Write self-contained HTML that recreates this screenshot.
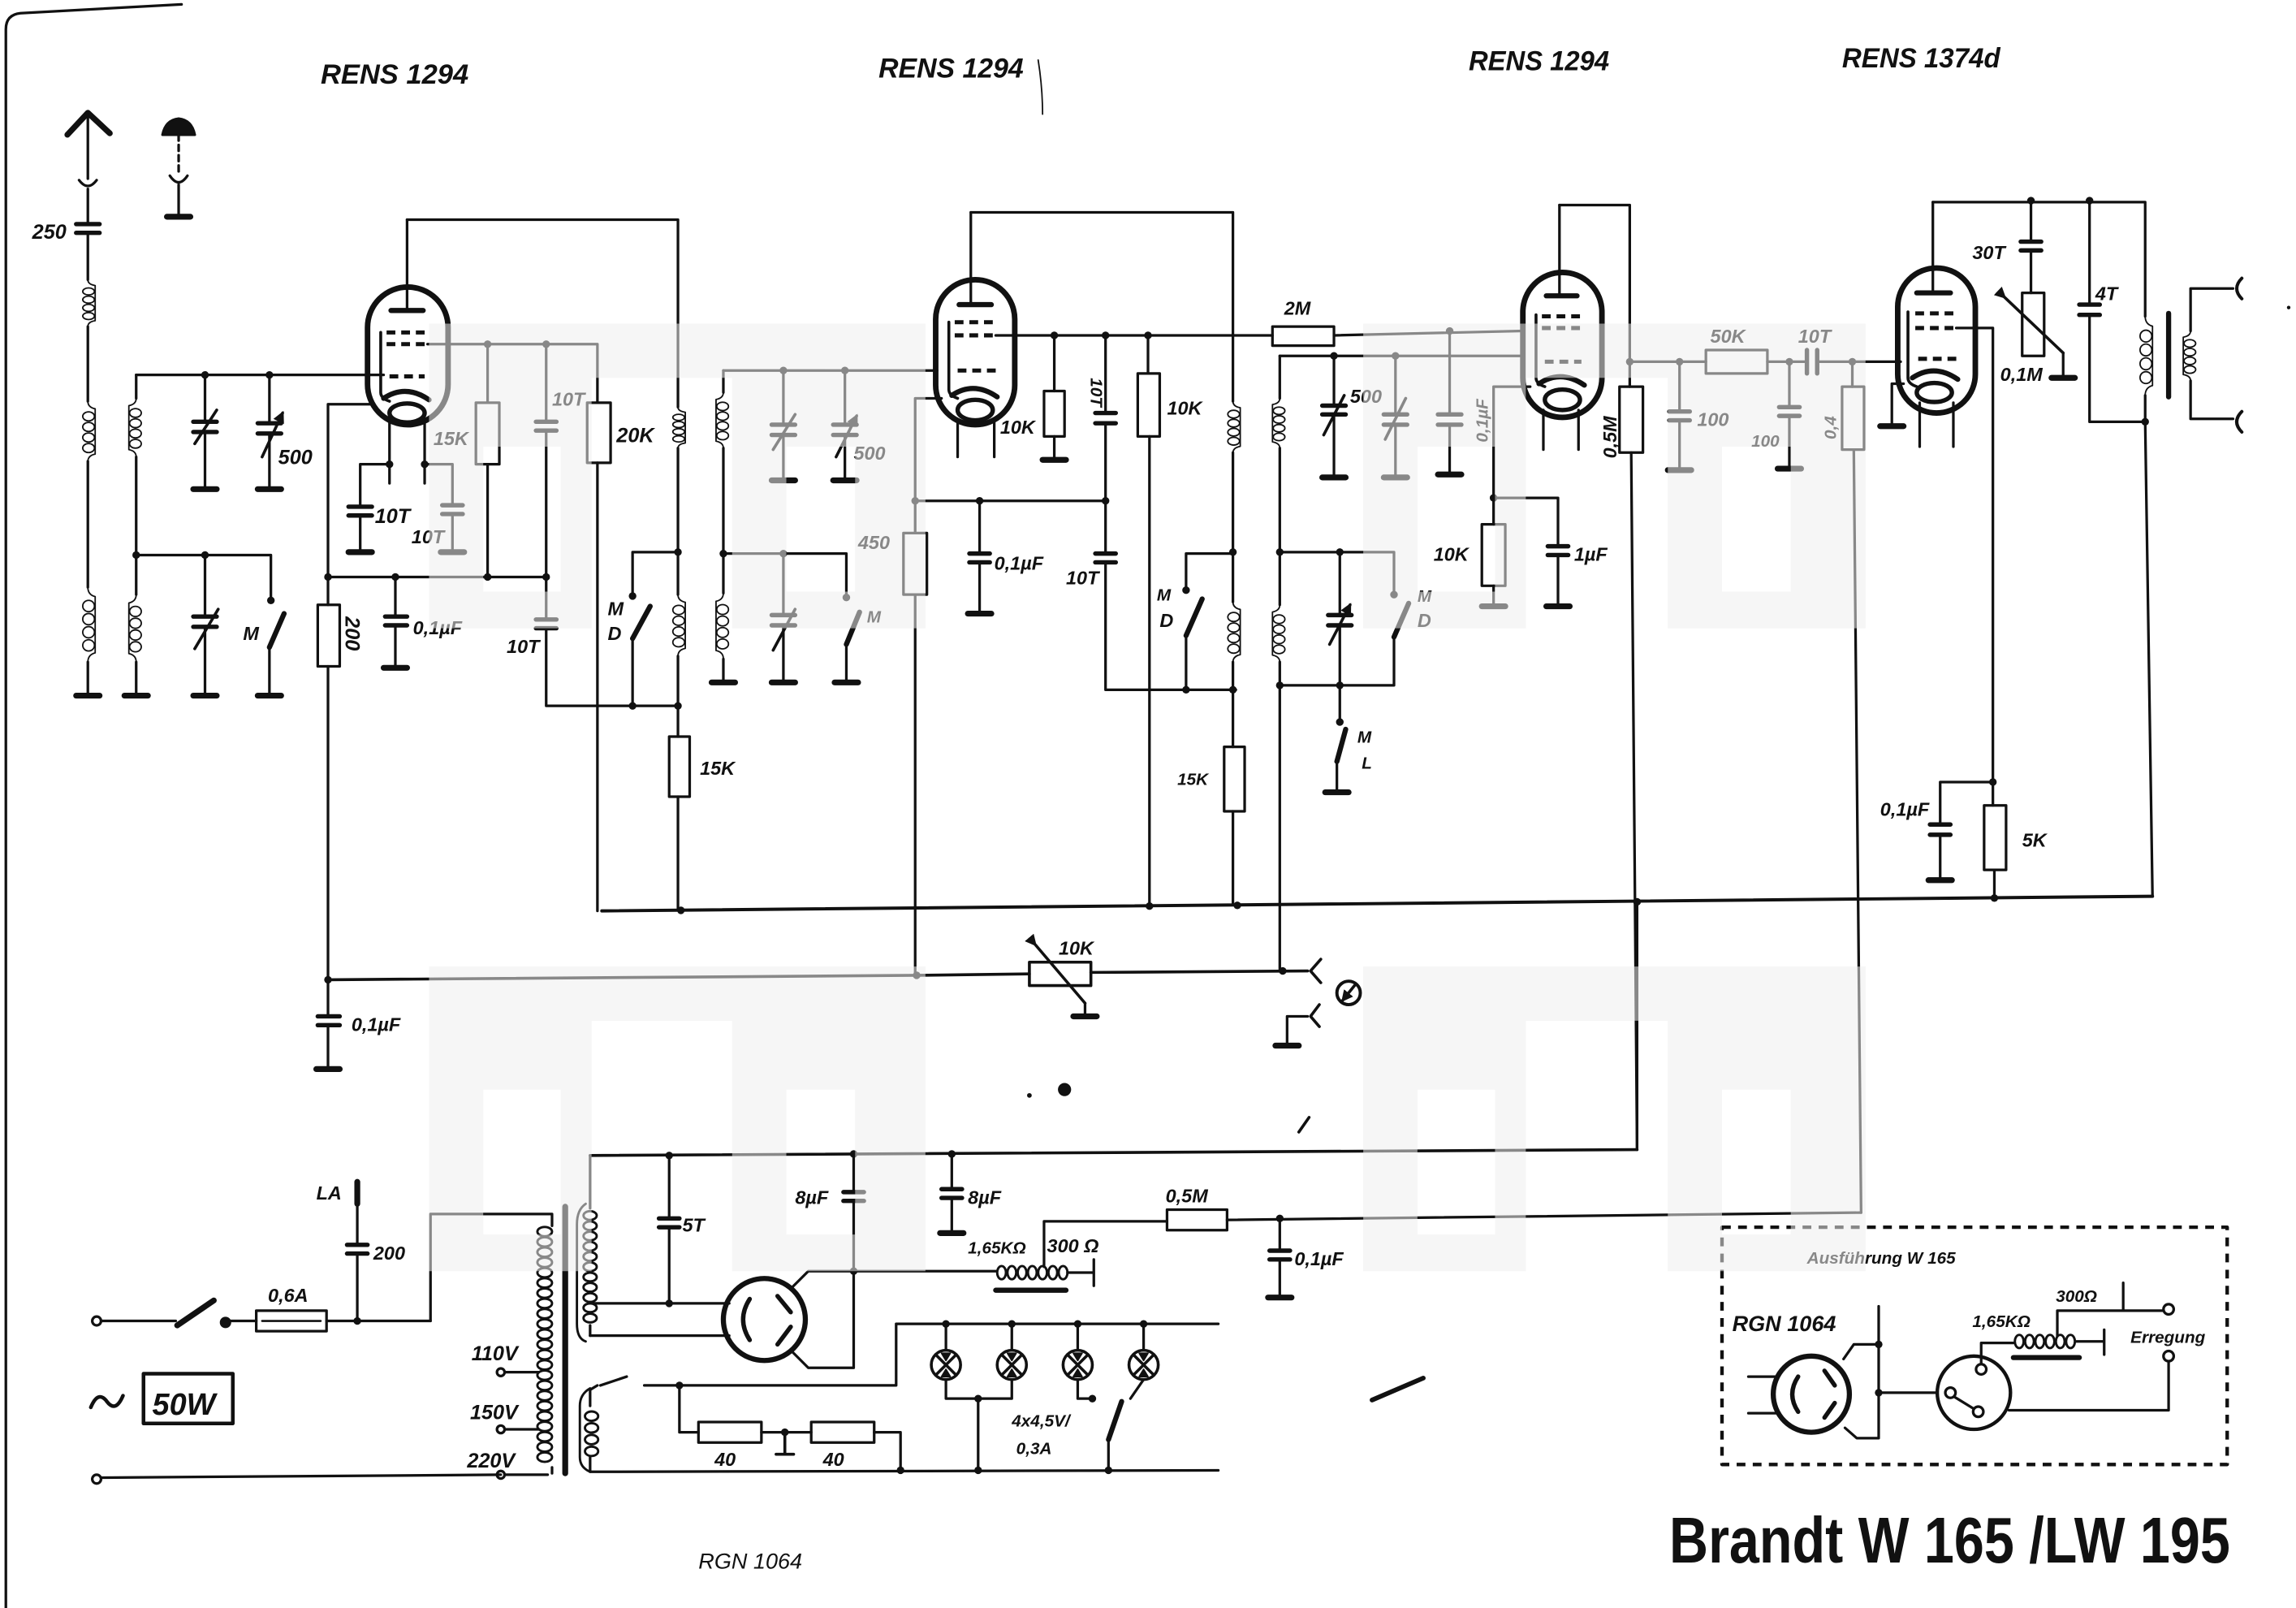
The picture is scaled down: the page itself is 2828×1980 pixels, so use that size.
<!DOCTYPE html>
<html><head><meta charset="utf-8"><style>
html,body{margin:0;padding:0;background:#fff;}
svg{display:block;}
text{font-family:"Liberation Sans",sans-serif;font-style:italic;font-weight:bold;fill:#111;stroke:none;}
.l{font-size:13px;} .s{font-size:11.5px;} .m{font-size:14px;} .t{font-size:19px;}
</style></head><body>
<svg width="2828" height="1980" viewBox="0 0 1568 1098" preserveAspectRatio="none" xmlns="http://www.w3.org/2000/svg">
<defs>
<marker id="ah" viewBox="0 0 10 10" refX="8" refY="5" markerWidth="4" markerHeight="4" orient="auto"><path d="M0,0 L10,5 L0,10 z" fill="#111"/></marker>
<line id="g" x1="-8" y1="0" x2="8" y2="0" stroke="#111" stroke-width="4" stroke-linecap="round"/>
<circle id="d" cx="0" cy="0" r="2.6" fill="#111"/>
<g id="cr" fill="none" stroke="#111" stroke-width="1.8">
<path vector-effect="non-scaling-stroke" d="M0,0 Q0,4 5,5 V35 Q0,36 0,40"/>
<ellipse vector-effect="non-scaling-stroke" cx="0.5" cy="10" rx="4" ry="3"/>
<ellipse vector-effect="non-scaling-stroke" cx="0.5" cy="17" rx="4" ry="3"/>
<ellipse vector-effect="non-scaling-stroke" cx="0.5" cy="24" rx="4" ry="3"/>
<ellipse vector-effect="non-scaling-stroke" cx="0.5" cy="31" rx="4" ry="3"/>
</g>
<g id="cl" transform="scale(-1,1)"><use href="#cr"/></g>
<g id="lamp" fill="none" stroke="#111" stroke-width="2">
<circle cx="0" cy="0" r="10"/><path d="M-7,-7 L7,7 M7,-7 L-7,7"/>
<path d="M-3,-8 L3,-8 L0,-3 Z M-3,8 L3,8 L0,3 Z" fill="#111" stroke-width="1"/>
</g>
</defs>
<rect width="1568" height="1098" fill="#fff"/>

<!-- watermark under -->
<g fill="#ededed" fill-rule="evenodd">
<path d="M293,221 H632 V429 H500 V258 H404 V429 H293 Z M330,305 H383 V404 H330 Z M537,305 H584 V404 H537 Z"/>
<path d="M931,221 H1274 V429 H1139 V258 H1042 V429 H931 Z M968,305 H1021 V404 H968 Z M1176,305 H1223 V404 H1176 Z"/>
<path d="M293,660 H632 V868 H500 V697 H404 V868 H293 Z M330,744 H383 V843 H330 Z M537,744 H584 V843 H537 Z"/>
<path d="M931,660 H1274 V868 H1139 V697 H1042 V868 H931 Z M968,744 H1021 V843 H968 Z M1176,744 H1223 V843 H1176 Z"/>
</g>

<g fill="none" stroke="#111" stroke-width="1.8" stroke-linecap="round" stroke-linejoin="round">
<!-- border -->
<path d="M4,1098 V20 Q4,10 14,9 L124,3"/>
<path d="M709,41 Q712,60 712,78" stroke-width="1"/>

<!-- antenna -->
<path d="M46,92 L60,77 L75,91" stroke-width="4"/>
<path d="M60,78 V122"/>
<path d="M54,123 Q60,131 66,123"/>
<path d="M60,129 V153 M60,159 V191 M60,223 V274 M60,315 V401 M60,452 V474"/>
<path d="M52,153 H68 M52,159 H68" stroke-width="3"/>
<use href="#cr" transform="translate(60,191) scale(1,0.8)"/>
<use href="#cr" transform="translate(60,274) scale(1,1.03)"/>
<use href="#cr" transform="translate(60,401) scale(1,1.28)"/>
<use href="#g" x="60" y="475"/>
<!-- earth -->
<path d="M111,92 Q113,82 122,81 Q131,82 133,92 Z" fill="#111"/>
<path d="M122,92 V119" stroke-dasharray="4,3"/>
<path d="M116,120 Q122,129 128,120 M122,126 V148"/>
<use href="#g" x="122" y="148"/>

<!-- stage 1 input -->
<path d="M93,256 H262"/>
<path d="M93,256 V272 M93,312 V406 M93,452 V474"/>
<use href="#cl" transform="translate(93,272)"/>
<use href="#cl" transform="translate(93,406) scale(1,1.15)"/>
<path d="M93,379 H185 V410"/>
<path d="M140,256 V288 M140,295 V333 M140,379 V421 M140,428 V474"/>
<path d="M132,288 H148 M132,295 H148 M132,421 H148 M132,428 H148 M176,289 H192 M176,296 H192" stroke-width="3"/>
<path d="M133,303 L148,280 M133,443 L149,416 M179,312 L193,282" stroke-width="2" marker-end="url(#ah)"/>
<path d="M184,256 V289 M184,296 V333"/>
<path d="M194,419 L184,442" stroke-width="3.5"/>
<path d="M184,442 V474"/>
<use href="#g" x="140" y="334"/><use href="#g" x="184" y="334"/><use href="#g" x="93" y="475"/><use href="#g" x="140" y="475"/><use href="#g" x="184" y="475"/>

<!-- tube 1 -->
<rect x="251" y="196" width="55" height="94" rx="27.5" stroke-width="3.8"/>
<path d="M278,150 V210"/>
<path d="M267,212 H289" stroke-width="3.5"/>
<path d="M264,227 H292 M264,235 H292 M266,257 H290" stroke-dasharray="6,4" stroke-width="2.8" stroke-linecap="butt"/>
<path d="M260,227 V268 Q260,272 266,274" stroke-width="2"/>
<path d="M262,272 Q277,262 293,273" stroke-width="3.5"/>
<ellipse cx="278" cy="282" rx="12" ry="6.5" stroke-width="3"/>
<path d="M266,288 V330 M290,288 V330"/>
<path d="M254,276 H224 V413 M224,455 V694 M224,700 V729"/>
<rect x="217" y="413" width="15" height="42"/>
<path d="M217,694 H232 M217,700 H232" stroke-width="3"/>
<use href="#g" x="224" y="730"/>
<path d="M292,235 H408 V275 M408,316 V622"/>
<rect x="401" y="275" width="16" height="41"/>
<path d="M333,235 V275 M333,317 V394"/>
<rect x="325" y="275" width="16" height="42"/>
<path d="M373,235 V288 M373,294 V423 M373,429 V482 H463"/>
<path d="M366,288 H380 M366,294 H380 M366,423 H380 M366,429 H380" stroke-width="3"/>
<path d="M266,317 H246 V346 M246,352 V376"/>
<path d="M238,346 H254 M238,352 H254" stroke-width="3"/>
<path d="M290,317 H309 V345 M309,351 V376"/>
<path d="M302,345 H316 M302,351 H316" stroke-width="3"/>
<use href="#g" x="246" y="377"/><use href="#g" x="309" y="377"/>
<path d="M224,394 H373"/>
<path d="M270,394 V421 M270,427 V455"/>
<path d="M263,421 H278 M263,427 H278" stroke-width="3"/>
<use href="#g" x="270" y="456"/>
<path d="M278,150 H463 V278 M463,306 V406 M463,448 V503 M463,544 V621"/>
<use href="#cr" transform="translate(463,278) scale(1,0.7)"/>
<use href="#cr" transform="translate(463,406) scale(1,1.05)"/>
<rect x="457" y="503" width="14" height="41"/>
<path d="M463,377 H432 V407"/>
<path d="M444,414 L432,436" stroke-width="3.5"/>
<path d="M432,436 V482"/>

<!-- tube 2 input -->
<path d="M494,253 H640"/>
<path d="M494,253 V268 M494,306 V405 M494,450 V465"/>
<use href="#cl" transform="translate(494,268) scale(1,0.95)"/>
<use href="#cl" transform="translate(494,405) scale(1,1.12)"/>
<path d="M494,378 H578 V408"/>
<path d="M535,253 V290 M535,297 V327 M535,378 V420 M535,427 V465 M577,253 V290 M577,297 V327"/>
<path d="M527,290 H543 M527,297 H543 M527,420 H543 M527,427 H543 M569,290 H585 M569,297 H585" stroke-width="3"/>
<path d="M528,307 L543,283 M528,444 L543,416 M571,312 L585,284" stroke-width="2" marker-end="url(#ah)"/>
<path d="M587,418 L578,440" stroke-width="3.5"/>
<path d="M578,440 V465"/>
<use href="#g" x="494" y="466"/><use href="#g" x="535" y="328"/><use href="#g" x="577" y="328"/><use href="#g" x="535" y="466"/><use href="#g" x="578" y="466"/>

<!-- tube 2 -->
<rect x="639" y="191" width="54" height="99" rx="27" stroke-width="3.8"/>
<path d="M663,145 V207"/>
<path d="M655,208 H677" stroke-width="3.5"/>
<path d="M652,220 H680 M652,229 H680 M654,253 H680" stroke-dasharray="6,4" stroke-width="2.8" stroke-linecap="butt"/>
<path d="M648,220 V266 Q648,270 654,272" stroke-width="2"/>
<path d="M650,270 Q665,260 681,271" stroke-width="3.5"/>
<ellipse cx="666" cy="280" rx="12" ry="7" stroke-width="3"/>
<path d="M654,287 V312 M679,287 V312"/>
<path d="M643,272 H625 V364 M625,406 V666"/>
<rect x="617" y="364" width="16" height="42"/>
<path d="M680,229 H869 M911,229 L1040,226"/>
<rect x="869" y="223" width="42" height="13"/>
<path d="M720,229 V267 M720,298 V313"/>
<rect x="713" y="267" width="14" height="31"/>
<use href="#g" x="720" y="314"/>
<path d="M755,229 V282 M755,289 V378 M755,384 V471 H844"/>
<path d="M748,282 H762 M748,289 H762 M748,378 H762 M748,384 H762" stroke-width="3"/>
<path d="M784,229 V255 M785,298 V619"/>
<rect x="777" y="255" width="15" height="43"/>
<path d="M625,342 H755"/>
<path d="M669,342 V378 M669,384 V418"/>
<path d="M662,378 H676 M662,384 H676" stroke-width="3"/>
<use href="#g" x="669" y="419"/>
<path d="M663,145 H842 V274 M842,309 V411 M842,452 V510 M842,554 V618"/>
<use href="#cr" transform="translate(842,274) scale(1,0.88)"/>
<use href="#cr" transform="translate(842,411) scale(1,1.03)"/>
<rect x="836" y="510" width="14" height="44"/>
<path d="M842,378 H810 V403"/>
<path d="M821,409 L810,434" stroke-width="3.5"/>
<path d="M810,434 V471"/>

<!-- tube 3 input -->
<path d="M874,243 H1040"/>
<path d="M874,243 V272 M874,306 V413 M874,452 V663"/>
<use href="#cl" transform="translate(874,272) scale(1,0.85)"/>
<use href="#cl" transform="translate(874,413) scale(1,0.98)"/>
<path d="M911,243 V277 M911,283 V325 M953,243 V283 M953,290 V325 M990,226 V283 M990,290 V323"/>
<path d="M903,277 H919 M903,283 H919 M945,283 H961 M945,290 H961 M982,283 H998 M982,290 H998" stroke-width="3"/>
<path d="M904,297 L918,270 M946,300 L960,272 M908,440 L922,413" stroke-width="2" marker-end="url(#ah)"/>
<use href="#g" x="911" y="326"/><use href="#g" x="953" y="326"/><use href="#g" x="990" y="324"/>
<path d="M874,377 H952 V406"/>
<path d="M962,412 L952,435" stroke-width="3.5"/>
<path d="M952,435 V468 H874"/>
<path d="M915,377 V420 M915,427 V493"/>
<path d="M907,420 H923 M907,427 H923" stroke-width="3"/>
<path d="M919,498 L913,520" stroke-width="3.5"/>
<path d="M913,520 V540"/>
<use href="#g" x="913" y="541"/>

<!-- tube 3 -->
<rect x="1040" y="186" width="54" height="99" rx="27" stroke-width="3.8"/>
<path d="M1065,140 V201"/>
<path d="M1056,202 H1077" stroke-width="3.5"/>
<path d="M1053,216 H1081 M1053,224 H1081 M1055,247 H1080" stroke-dasharray="6,4" stroke-width="2.8" stroke-linecap="butt"/>
<path d="M1049,215 V258 Q1049,262 1055,264" stroke-width="2"/>
<path d="M1051,262 Q1066,252 1082,263" stroke-width="3.5"/>
<ellipse cx="1067" cy="273" rx="12" ry="7" stroke-width="3"/>
<path d="M1054,280 V307 M1078,280 V307"/>
<path d="M1045,264 H1020 V358 M1020,400 V413"/>
<rect x="1012" y="358" width="16" height="42"/>
<use href="#g" x="1020" y="414"/>
<path d="M1020,340 H1064 V373 M1064,379 V413"/>
<path d="M1057,373 H1071 M1057,379 H1071" stroke-width="3"/>
<use href="#g" x="1064" y="414"/>
<path d="M1065,140 H1113 V264 M1114,309 L1118,785"/>
<rect x="1106" y="264" width="16" height="45"/>
<path d="M1113,247 H1165 M1207,247 H1234 M1241,247 H1298"/>
<rect x="1165" y="239" width="42" height="16"/>
<path d="M1234,239 V255 M1241,239 V255" stroke-width="3"/>
<path d="M1147,247 V281 M1147,287 V320 M1222,247 V278 M1222,284 V319"/>
<path d="M1140,281 H1154 M1140,287 H1154 M1215,278 H1229 M1215,284 H1229" stroke-width="3"/>
<use href="#g" x="1147" y="321"/><use href="#g" x="1222" y="320"/>
<path d="M1265,247 V264 M1266,307 L1271,828"/>
<rect x="1258" y="264" width="15" height="43"/>

<!-- tube 4 -->
<rect x="1296" y="183" width="53" height="99" rx="26.5" stroke-width="3.8"/>
<path d="M1320,138 V198"/>
<path d="M1309,200 H1332" stroke-width="3.5"/>
<path d="M1308,214 H1336 M1308,224 H1336 M1310,245 H1336" stroke-dasharray="6,4" stroke-width="2.8" stroke-linecap="butt"/>
<path d="M1303,213 V258 Q1303,262 1309,264" stroke-width="2"/>
<path d="M1306,258 Q1321,248 1337,259" stroke-width="3.5"/>
<ellipse cx="1321" cy="268" rx="12" ry="6.5" stroke-width="3"/>
<path d="M1311,275 V305 M1334,275 V305"/>
<path d="M1300,262 H1292 V290"/>
<use href="#g" x="1292" y="291"/>
<path d="M1336,224 H1361 V550 M1362,594 V613"/>
<rect x="1355" y="550" width="15" height="44"/>
<path d="M1320,138 H1465 V216 M1465,270 V288 L1470,612"/>
<use href="#cr" transform="translate(1465,216) scale(1,1.35)"/>
<path d="M1387,138 V165 M1387,171 V200"/>
<path d="M1380,165 H1394 M1380,171 H1394" stroke-width="3"/>
<rect x="1381" y="200" width="15" height="43"/>
<path d="M1369,203 L1409,241" stroke-width="2" marker-start="url(#ah)"/>
<path d="M1409,241 V257"/>
<use href="#g" x="1409" y="258"/>
<path d="M1427,137 V208 M1427,215 V288 H1465"/>
<path d="M1420,208 H1434 M1420,215 H1434" stroke-width="3"/>
<path d="M1481,214 V271" stroke-width="3.5"/>
<path d="M1525,197 H1496 V226 M1496,260 V286 H1525"/>
<use href="#cl" transform="translate(1496,226) scale(1,0.85)"/>
<path d="M1531,190 Q1524,197 1531,204 M1531,281 Q1524,288 1531,295" stroke-width="2.2"/>
<path d="M1361,534 H1325 V563 M1325,570 V600"/>
<path d="M1318,563 H1332 M1318,570 H1332" stroke-width="3"/>
<use href="#g" x="1325" y="601"/>

<!-- B+ line and AVC -->
<path d="M411,622 L1470,612" stroke-width="2.2"/>
<path d="M224,669 L626,666 L703,665 M745,664 L893,663" stroke-width="2"/>
<rect x="703" y="657" width="42" height="16" stroke-width="2"/>
<path d="M707,645 L741,685" stroke-width="2" marker-start="url(#ah)"/>
<path d="M741,685 V693"/>
<use href="#g" x="741" y="694"/>
<path d="M902,655 L895,663 L902,671" stroke-width="2"/>
<circle cx="921" cy="678" r="8" stroke-width="2.2"/>
<path d="M925,673 L917,683" stroke-width="2" marker-end="url(#ah)"/>
<path d="M879,713 V694 H893"/>
<path d="M901,686 L895,694 L901,701" stroke-width="2"/>
<use href="#g" x="879" y="714"/>

<!-- power supply -->
<path d="M403,789 L1118,785" stroke-width="2"/>
<path d="M403,789 V825 M403,905 V912"/>
<path d="M400,822 Q394,826 394,836 V904 Q394,914 400,916" stroke-width="1.6"/>
<g stroke-width="1.6">
<ellipse cx="403" cy="830" rx="4.5" ry="3"/><ellipse cx="403" cy="837" rx="4.5" ry="3"/><ellipse cx="403" cy="844" rx="4.5" ry="3"/><ellipse cx="403" cy="851" rx="4.5" ry="3"/><ellipse cx="403" cy="858" rx="4.5" ry="3"/><ellipse cx="403" cy="865" rx="4.5" ry="3"/><ellipse cx="403" cy="872" rx="4.5" ry="3"/><ellipse cx="403" cy="879" rx="4.5" ry="3"/><ellipse cx="403" cy="886" rx="4.5" ry="3"/><ellipse cx="403" cy="893" rx="4.5" ry="3"/><ellipse cx="403" cy="900" rx="4.5" ry="3"/>
</g>
<path d="M403,890 H498 M403,912 H498"/>
<path d="M457,789 V832 M457,838 V890"/>
<path d="M450,832 H464 M450,838 H464" stroke-width="3"/>
<circle cx="522" cy="901" r="28" stroke-width="3.5"/>
<path d="M512,887 Q503,901 512,915" stroke-width="3"/>
<path d="M531,885 L540,896 M531,918 L540,906" stroke-width="3"/>
<path d="M540,880 L552,868 H680 M540,922 L552,934 H583 V868"/>
<path d="M583,789 V814 M583,820 V868"/>
<path d="M576,814 H590 M576,820 H590" stroke-width="3"/>
<path d="M650,789 V812 M650,818 V841"/>
<path d="M643,812 H657 M643,818 H657" stroke-width="3"/>
<use href="#g" x="650" y="842"/>
<g stroke-width="1.6">
<ellipse cx="684" cy="869" rx="3" ry="4.5"/><ellipse cx="691" cy="869" rx="3" ry="4.5"/><ellipse cx="698" cy="869" rx="3" ry="4.5"/><ellipse cx="705" cy="869" rx="3" ry="4.5"/><ellipse cx="712" cy="869" rx="3" ry="4.5"/><ellipse cx="719" cy="869" rx="3" ry="4.5"/><ellipse cx="726" cy="869" rx="3" ry="4.5"/>
</g>
<path d="M729,869 H747 M747,860 V878"/>
<path d="M680,881 H728" stroke-width="3.5"/>
<path d="M713,865 V834 H797 M838,833 L1271,828"/>
<rect x="797" y="826" width="41" height="14"/>
<path d="M874,832 V854 M874,860 V885"/>
<path d="M867,854 H881 M867,860 H881" stroke-width="3"/>
<use href="#g" x="874" y="886"/>
<path d="M1118,785 V616"/>
<!-- primary -->
<path d="M294,902 V829 H377 V837 M377,1002 V1006"/>
<g stroke-width="1.6">
<ellipse cx="372" cy="841" rx="5" ry="3.2"/><ellipse cx="372" cy="848" rx="5" ry="3.2"/><ellipse cx="372" cy="855" rx="5" ry="3.2"/><ellipse cx="372" cy="862" rx="5" ry="3.2"/><ellipse cx="372" cy="869" rx="5" ry="3.2"/><ellipse cx="372" cy="876" rx="5" ry="3.2"/><ellipse cx="372" cy="883" rx="5" ry="3.2"/><ellipse cx="372" cy="890" rx="5" ry="3.2"/><ellipse cx="372" cy="897" rx="5" ry="3.2"/><ellipse cx="372" cy="904" rx="5" ry="3.2"/><ellipse cx="372" cy="911" rx="5" ry="3.2"/><ellipse cx="372" cy="918" rx="5" ry="3.2"/><ellipse cx="372" cy="925" rx="5" ry="3.2"/><ellipse cx="372" cy="932" rx="5" ry="3.2"/><ellipse cx="372" cy="939" rx="5" ry="3.2"/><ellipse cx="372" cy="946" rx="5" ry="3.2"/><ellipse cx="372" cy="953" rx="5" ry="3.2"/><ellipse cx="372" cy="960" rx="5" ry="3.2"/><ellipse cx="372" cy="967" rx="5" ry="3.2"/><ellipse cx="372" cy="974" rx="5" ry="3.2"/><ellipse cx="372" cy="981" rx="5" ry="3.2"/><ellipse cx="372" cy="988" rx="5" ry="3.2"/><ellipse cx="372" cy="995" rx="5" ry="3.2"/>
</g>
<path d="M386,824 V1006" stroke-width="4"/>
<path d="M345,937 H368 M345,976 H368 M345,1007 H374"/>
<circle cx="342" cy="937" r="2.6"/><circle cx="342" cy="976" r="2.6"/><circle cx="342" cy="1007" r="2.6"/>
<!-- mains -->
<circle cx="66" cy="902" r="3"/>
<path d="M69,902 H120"/>
<path d="M121,905 L146,888" stroke-width="4"/>
<circle cx="154" cy="903" r="3" fill="#111"/>
<path d="M157,902 H175 M223,902 H294"/>
<rect x="175" y="895" width="48" height="14"/>
<path d="M179,902 H219" stroke-width="1.4"/>
<path d="M244,902 V856 M244,850 V818"/>
<path d="M237,850 H251 M237,856 H251" stroke-width="3"/>
<path d="M244,807 V822" stroke-width="4"/>
<circle cx="66" cy="1010" r="3"/>
<path d="M69,1009 L342,1007"/>
<path d="M62,961 Q67,949 73,957 T84,953" stroke-width="2.5"/>
<rect x="98" y="938" width="61" height="34" stroke-width="2.5"/>
<!-- heater secondary -->
<path d="M403,960 V949 L408,946 M410,946 L428,940 M440,946 H612 V904 H832 M403,995 V1005 L832,1004" stroke-width="1.8"/>
<path d="M403,948 Q396,952 396,960 V995 Q396,1002 403,1005" stroke-width="1.6"/>
<ellipse cx="404" cy="967" rx="4.5" ry="3.2" stroke-width="1.6"/><ellipse cx="404" cy="975" rx="4.5" ry="3.2" stroke-width="1.6"/><ellipse cx="404" cy="983" rx="4.5" ry="3.2" stroke-width="1.6"/><ellipse cx="404" cy="991" rx="4.5" ry="3.2" stroke-width="1.6"/>
<path d="M464,946 V978 H477 M520,978 H554 M597,978 H615 V1004"/>
<rect x="477" y="971" width="43" height="14"/>
<rect x="554" y="971" width="43" height="14"/>
<path d="M536,978 V992 M530,993 H542" stroke-width="2"/>
<path d="M646,904 V922 M691,904 V922 M736,904 V922 M781,904 V922"/>
<use href="#lamp" x="646" y="932"/>
<use href="#lamp" x="691" y="932"/>
<use href="#lamp" x="736" y="932"/>
<use href="#lamp" x="781" y="932"/>
<path d="M646,942 V955 H691 V942 M668,955 V1004 M736,942 V955 H746 M781,942 L772,955"/>
<path d="M766,957 L757,983" stroke-width="3.5"/>
<path d="M757,983 V1004"/>

<!-- dashed box -->
<rect x="1176" y="838" width="345" height="162" stroke-width="2.4" stroke-dasharray="6,5" stroke-linecap="butt"/>
<circle cx="1237" cy="952" r="26" stroke-width="3.5"/>
<path d="M1194,940 H1214 M1194,965 H1214"/>
<path d="M1228,940 Q1220,952 1228,964" stroke-width="3"/>
<path d="M1246,936 L1253,946 M1246,968 L1253,958" stroke-width="3"/>
<path d="M1283,892 V982 H1268 L1260,975 M1259,928 L1266,918 H1283 M1283,951 H1323"/>
<circle cx="1348" cy="951" r="25" stroke-width="2.4"/>
<circle cx="1353" cy="935" r="3.5" stroke-width="1.8"/>
<circle cx="1332" cy="951" r="3.5" stroke-width="1.8"/>
<circle cx="1351" cy="964" r="3.5" stroke-width="1.8"/>
<path d="M1335,954 L1348,962"/>
<path d="M1353,931 V917 H1375"/>
<g stroke-width="1.6">
<ellipse cx="1379" cy="916" rx="3" ry="4.5"/><ellipse cx="1386" cy="916" rx="3" ry="4.5"/><ellipse cx="1393" cy="916" rx="3" ry="4.5"/><ellipse cx="1400" cy="916" rx="3" ry="4.5"/><ellipse cx="1407" cy="916" rx="3" ry="4.5"/><ellipse cx="1414" cy="916" rx="3" ry="4.5"/>
</g>
<path d="M1375,927 H1420" stroke-width="3.5"/>
<path d="M1418,916 H1437 M1437,908 V925"/>
<path d="M1405,912 V895 H1477 M1450,876 V895"/>
<circle cx="1481" cy="894" r="3.5"/>
<circle cx="1481" cy="926" r="3.5"/>
<path d="M1481,930 V963 H1372"/>

<!-- stray marks -->
<path d="M887,773 L894,763" stroke-width="2"/>
<path d="M937,956 L972,941" stroke-width="3.2"/>
</g>

<!-- dots -->
<g>
<use href="#d" x="140" y="256"/><use href="#d" x="184" y="256"/><use href="#d" x="93" y="379"/><use href="#d" x="140" y="379"/><use href="#d" x="185" y="410"/>
<use href="#d" x="224" y="394"/><use href="#d" x="270" y="394"/><use href="#d" x="333" y="394"/><use href="#d" x="373" y="394"/><use href="#d" x="333" y="235"/><use href="#d" x="373" y="235"/><use href="#d" x="266" y="317"/><use href="#d" x="290" y="317"/>
<use href="#d" x="463" y="377"/><use href="#d" x="463" y="482"/><use href="#d" x="432" y="482"/><use href="#d" x="432" y="407"/>
<use href="#d" x="535" y="253"/><use href="#d" x="577" y="253"/><use href="#d" x="494" y="378"/><use href="#d" x="535" y="378"/><use href="#d" x="578" y="408"/>
<use href="#d" x="720" y="229"/><use href="#d" x="755" y="229"/><use href="#d" x="784" y="229"/><use href="#d" x="625" y="342"/><use href="#d" x="669" y="342"/><use href="#d" x="755" y="342"/>
<use href="#d" x="842" y="377"/><use href="#d" x="810" y="471"/><use href="#d" x="842" y="471"/><use href="#d" x="810" y="403"/>
<use href="#d" x="911" y="243"/><use href="#d" x="953" y="243"/><use href="#d" x="990" y="226"/><use href="#d" x="874" y="377"/><use href="#d" x="915" y="377"/><use href="#d" x="874" y="468"/><use href="#d" x="915" y="468"/><use href="#d" x="952" y="406"/><use href="#d" x="915" y="493"/>
<use href="#d" x="1020" y="340"/><use href="#d" x="1113" y="247"/><use href="#d" x="1147" y="247"/><use href="#d" x="1222" y="247"/><use href="#d" x="1265" y="247"/>
<use href="#d" x="1387" y="137"/><use href="#d" x="1427" y="137"/><use href="#d" x="1465" y="288"/><use href="#d" x="1361" y="534"/>
<use href="#d" x="465" y="621.6"/><use href="#d" x="785" y="618.7"/><use href="#d" x="845" y="618.2"/><use href="#d" x="1118" y="615.8"/><use href="#d" x="1362" y="613.2"/>
<use href="#d" x="224" y="669"/><use href="#d" x="626" y="666"/><use href="#d" x="876" y="663"/>
<use href="#d" x="457" y="789"/><use href="#d" x="583" y="788"/><use href="#d" x="650" y="788"/><use href="#d" x="457" y="890"/><use href="#d" x="583" y="868"/><use href="#d" x="874" y="832"/>
<use href="#d" x="244" y="902"/><use href="#d" x="464" y="946"/><use href="#d" x="646" y="904"/><use href="#d" x="691" y="904"/><use href="#d" x="736" y="904"/><use href="#d" x="781" y="904"/>
<use href="#d" x="615" y="1004"/><use href="#d" x="668" y="1004"/><use href="#d" x="757" y="1004"/><use href="#d" x="668" y="955"/><use href="#d" x="746" y="955"/><use href="#d" x="536" y="978"/>
<use href="#d" x="1283" y="918"/><use href="#d" x="1283" y="951"/>
<circle cx="727" cy="744" r="4.5" fill="#111"/><circle cx="703" cy="748" r="1.6" fill="#111"/><circle cx="1563" cy="210" r="1.2" fill="#111"/>
</g>

<!-- labels -->
<text class="t" x="219" y="57" textLength="101" lengthAdjust="spacingAndGlyphs">RENS 1294</text>
<text class="t" x="600" y="53" textLength="99" lengthAdjust="spacingAndGlyphs">RENS 1294</text>
<text class="t" x="1003" y="48" textLength="96" lengthAdjust="spacingAndGlyphs">RENS 1294</text>
<text class="t" x="1258" y="46" textLength="108" lengthAdjust="spacingAndGlyphs">RENS 1374d</text>
<text class="m" x="22" y="163">250</text>
<text class="m" x="190" y="317">500</text>
<text class="l" x="166" y="437">M</text>
<text class="l" x="296" y="304">15K</text>
<text class="l" x="377" y="277">10T</text>
<text class="m" x="421" y="302">20K</text>
<text class="m" x="256" y="357">10T</text>
<text class="l" x="281" y="371">10T</text>
<text class="l" x="282" y="433">0,1µF</text>
<text class="l" x="346" y="446">10T</text>
<text class="m" transform="translate(236,421) rotate(90)">200</text>
<text class="l" x="415" y="420">M</text>
<text class="l" x="415" y="437">D</text>
<text class="l" x="478" y="529">15K</text>
<text class="l" x="583" y="314">500</text>
<text class="s" x="592" y="425">M</text>
<text class="l" x="586" y="375">450</text>
<text class="l" x="683" y="296">10K</text>
<text class="s" transform="translate(745,258) rotate(90)">10T</text>
<text class="l" x="797" y="283">10K</text>
<text class="l" x="679" y="389">0,1µF</text>
<text class="l" x="728" y="399">10T</text>
<text class="s" x="790" y="410">M</text>
<text class="l" x="792" y="428">D</text>
<text class="s" x="804" y="536">15K</text>
<text class="l" x="877" y="215">2M</text>
<text class="l" x="922" y="275">500</text>
<text class="s" transform="translate(1016,302) rotate(-90)">0,1µF</text>
<text class="s" x="968" y="411">M</text>
<text class="l" x="968" y="428">D</text>
<text class="s" x="927" y="507">M</text>
<text class="s" x="930" y="525">L</text>
<text class="l" x="979" y="383">10K</text>
<text class="l" x="1075" y="383">1µF</text>
<text class="l" transform="translate(1104,313) rotate(-90)">0,5M</text>
<text class="l" x="1168" y="234">50K</text>
<text class="l" x="1228" y="234">10T</text>
<text class="l" x="1159" y="291">100</text>
<text class="s" x="1196" y="305">100</text>
<text class="s" transform="translate(1254,300) rotate(-90)">0,4</text>
<text class="l" x="1347" y="177">30T</text>
<text class="l" x="1366" y="260">0,1M</text>
<text class="l" x="1431" y="205">4T</text>
<text class="l" x="1284" y="557">0,1µF</text>
<text class="l" x="1381" y="578">5K</text>
<text class="l" x="723" y="652">10K</text>
<text class="l" x="240" y="704">0,1µF</text>
<text class="l" x="216" y="819">LA</text>
<text class="l" x="255" y="860">200</text>
<text class="l" x="183" y="889">0,6A</text>
<text class="l" x="466" y="841">5T</text>
<text class="l" x="543" y="822">8µF</text>
<text class="l" x="661" y="822">8µF</text>
<text class="s" x="661" y="856">1,65KΩ</text>
<text class="l" x="715" y="855">300 Ω</text>
<text class="l" x="796" y="821">0,5M</text>
<text class="l" x="884" y="864">0,1µF</text>
<text class="m" x="322" y="929">110V</text>
<text class="m" x="321" y="969">150V</text>
<text class="m" x="319" y="1002">220V</text>
<text x="104" y="966" style="font-size:21px;">50W</text>
<text class="l" x="488" y="1001">40</text>
<text class="l" x="562" y="1001">40</text>
<text class="s" x="691" y="974">4x4,5V/</text>
<text class="s" x="694" y="993">0,3A</text>
<text x="477" y="1071" style="font-size:15px;font-weight:normal;">RGN 1064</text>
<text class="s" x="1234" y="863">Ausführung W 165</text>
<text x="1183" y="909" style="font-size:15px;">RGN 1064</text>
<text class="s" x="1347" y="906">1,65KΩ</text>
<text class="s" x="1404" y="889">300Ω</text>
<text class="s" x="1455" y="917">Erregung</text>
<text x="1140" y="1067" textLength="383" lengthAdjust="spacingAndGlyphs" style="font-size:44px;font-style:normal;">Brandt W 165 /LW 195</text>

<!-- watermark over (greys lines) -->
<g fill="#fff" fill-opacity="0.5" fill-rule="evenodd">
<path d="M293,221 H632 V429 H500 V258 H404 V429 H293 Z M330,305 H383 V404 H330 Z M537,305 H584 V404 H537 Z"/>
<path d="M931,221 H1274 V429 H1139 V258 H1042 V429 H931 Z M968,305 H1021 V404 H968 Z M1176,305 H1223 V404 H1176 Z"/>
<path d="M293,660 H632 V868 H500 V697 H404 V868 H293 Z M330,744 H383 V843 H330 Z M537,744 H584 V843 H537 Z"/>
<path d="M931,660 H1274 V868 H1139 V697 H1042 V868 H931 Z M968,744 H1021 V843 H968 Z M1176,744 H1223 V843 H1176 Z"/>
</g>
</svg>
</body></html>
